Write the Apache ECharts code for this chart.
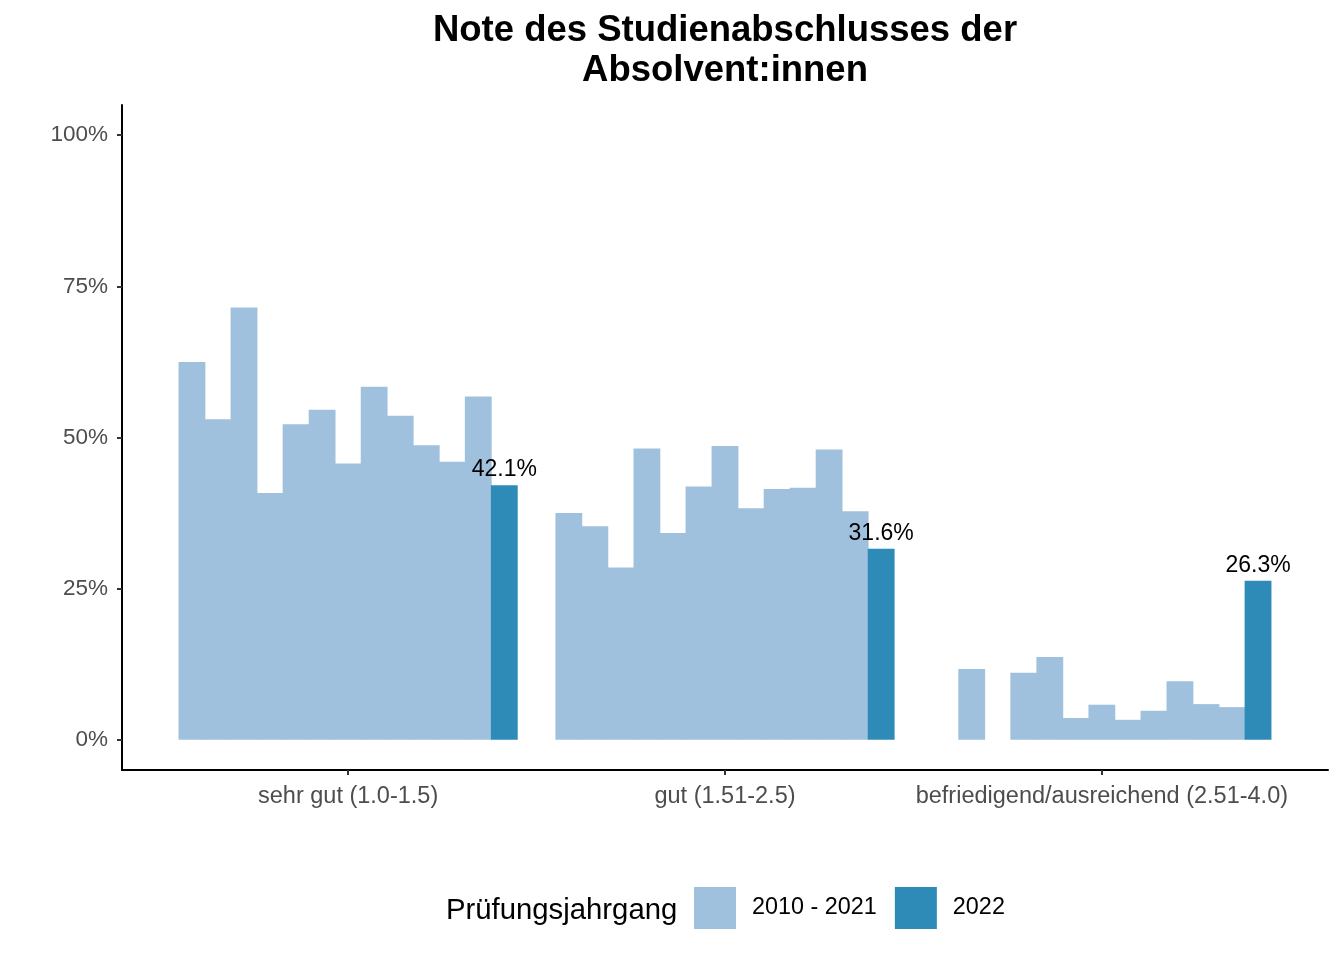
<!DOCTYPE html>
<html>
    <head>
        <title>Note des Studienabschlusses</title>
        <meta charset="UTF-8">
        <script src="https://cdn.jsdelivr.net/npm/echarts@6/dist/echarts.min.js"></script>
        <style>
            body { margin: 0; background-color: #fff; }
            #main { width: 1344px; height: 960px; }
        </style>
    </head>
    <body>
        <div id="main"></div>
        <script>
            // Werte in Prozent, je Notenstufe ein Wert pro Jahrgang (2010 ... 2022)
            var kategorien = ['sehr gut (1.0-1.5)', 'gut (1.51-2.5)', 'befriedigend/ausreichend (2.51-4.0)'];
            var jahrgaenge = ['2010', '2011', '2012', '2013', '2014', '2015', '2016', '2017', '2018', '2019', '2020', '2021', '2022'];
            var sehrGut = [62.5, 53.0, 71.5, 40.8, 52.2, 54.6, 45.7, 58.4, 53.6, 48.7, 46.0, 56.8, 42.1];
            var gut = [37.5, 35.3, 28.5, 48.2, 34.2, 41.9, 48.6, 38.3, 41.5, 41.7, 48.0, 37.8, 31.6];
            var befriedigend = [null, 11.7, null, 11.1, 13.7, 3.6, 5.8, 3.3, 4.8, 9.7, 5.9, 5.4, 26.3];
            var yTicks = [0, 25, 50, 75, 100];

            var hell = '#A0C1DD';
            var dunkel = '#2E8BB8';
            var schrift = "'Liberation Sans', Arial, Helvetica, sans-serif";

            var series = [];
            for (var i = 0; i < jahrgaenge.length; i++) {
                var aktuell = (i === jahrgaenge.length - 1);
                var farbe = aktuell ? dunkel : hell;
                series.push({
                    name: aktuell ? '2022' : '2010 - 2021',
                    type: 'bar',
                    xAxisIndex: 0,
                    yAxisIndex: 0,
                    // leichte Überlappung, damit keine hellen Fugen zwischen den Balken bleiben
                    barGap: '-3%',
                    barCategoryGap: '10%',
                    itemStyle: {color: farbe},
                    label: {
                        show: aktuell,
                        position: 'top',
                        distance: 4,
                        formatter: '{c}%',
                        color: '#000',
                        fontSize: 23,
                        fontFamily: schrift
                    },
                    emphasis: {disabled: true},
                    data: [sehrGut[i], gut[i], befriedigend[i]]
                });
            }

            var chart = echarts.init(document.getElementById('main'));
            var option = {
                animation: false,
                textStyle: {fontFamily: schrift},
                title: [{
                        text: 'Note des Studienabschlusses der\nAbsolvent:innen',
                        left: 725,
                        top: 11,
                        padding: 0,
                        textAlign: 'center',
                        textStyle: {fontSize: 36.5, fontWeight: 'bold', color: '#000', lineHeight: 40, fontFamily: schrift}
                    }, {
                        text: 'Prüfungsjahrgang',
                        left: 446,
                        top: 896,
                        padding: 0,
                        textStyle: {fontSize: 29.3, fontWeight: 'normal', color: '#000', fontFamily: schrift}
                    }],
                legend: {
                    data: ['2010 - 2021', '2022'],
                    left: 694,
                    top: 887,
                    padding: 0,
                    icon: 'rect',
                    itemWidth: 42,
                    itemHeight: 42,
                    itemGap: 18,
                    itemStyle: {borderWidth: 0},
                    textStyle: {fontSize: 23.4, color: '#000', padding: [0, 0, 0, 11], fontFamily: schrift}
                },
                grid: [
                    {left: 159.7, right: 53.7, top: 105, bottom: 190},
                    {left: 122, right: 16, top: 105, bottom: 190}
                ],
                xAxis: [{
                        type: 'category',
                        gridIndex: 0,
                        data: kategorien,
                        axisLine: {show: false, onZero: false},
                        axisTick: {show: true, alignWithLabel: true, length: 5, lineStyle: {color: '#333', width: 2}},
                        axisLabel: {interval: 0, hideOverlap: false, color: '#4d4d4d', fontSize: 23.5, margin: 15, fontFamily: schrift}
                    }, {
                        type: 'value',
                        gridIndex: 1,
                        min: 0,
                        max: 1,
                        axisLine: {show: true, onZero: false, lineStyle: {color: '#000', width: 2}},
                        axisTick: {show: false},
                        axisLabel: {show: false},
                        splitLine: {show: false}
                    }],
                yAxis: [{
                        type: 'value',
                        gridIndex: 0,
                        min: -5,
                        max: 105,
                        show: false
                    }, {
                        type: 'value',
                        gridIndex: 1,
                        min: -5,
                        max: 105,
                        axisLine: {show: true, onZero: false, lineStyle: {color: '#000', width: 2}},
                        axisTick: {show: true, length: 5, customValues: yTicks, lineStyle: {color: '#333', width: 2}},
                        axisLabel: {customValues: yTicks, formatter: '{value}%', color: '#4d4d4d', fontSize: 22.5, margin: 14, fontFamily: schrift},
                        splitLine: {show: false}
                    }],
                series: series
            };
            chart.setOption(option);
        </script>
    </body>
</html>
